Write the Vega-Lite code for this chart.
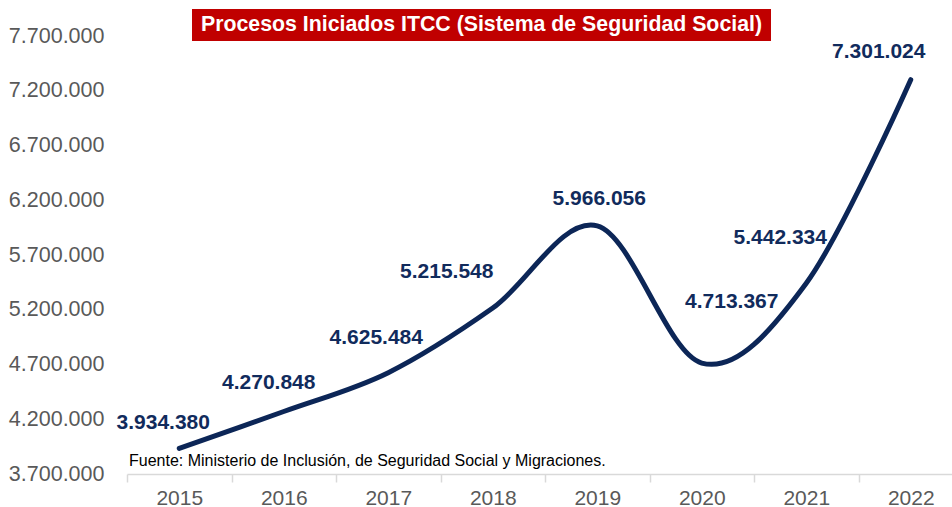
{
  "$schema": "https://vega.github.io/schema/vega-lite/v6.json",
  "width": 825,
  "height": 438,
  "autosize": {"type": "none"},
  "padding": {"left": 127, "top": 36, "right": 0, "bottom": 33},
  "background": "white",
  "config": {
    "view": {"stroke": null},
    "font": "Liberation Sans",
    "locale": {"number": {"decimal": ",", "thousands": ".", "grouping": [3], "currency": ["", " €"]}}
  },
  "data": {
    "values": [
      {"year": "2015", "value": 3934380},
      {"year": "2016", "value": 4270848},
      {"year": "2017", "value": 4625484},
      {"year": "2018", "value": 5215548},
      {"year": "2019", "value": 5966056},
      {"year": "2020", "value": 4713367},
      {"year": "2021", "value": 5442334},
      {"year": "2022", "value": 7301024}
    ]
  },
  "layer": [
    {
      "mark": {"type": "line", "interpolate": "cardinal", "color": "#0C2657", "strokeWidth": 5, "strokeCap": "round", "clip": false},
      "encoding": {
        "x": {
          "field": "year", "type": "ordinal",
          "scale": {"type": "band", "range": [0, 836], "paddingInner": 0, "paddingOuter": 0},
          "axis": {
            "title": null, "labelAngle": 0, "labelFontSize": 21, "labelColor": "#595959",
            "domainColor": "#D9D9D9", "domainWidth": 1.5, "tickColor": "#D9D9D9", "tickWidth": 1.5,
            "tickSize": 8, "tickBand": "extent", "labelPadding": 5, "grid": false
          }
        },
        "y": {
          "field": "value", "type": "quantitative",
          "scale": {"domain": [3700000, 7700000], "nice": false, "zero": false},
          "axis": {
            "title": null, "values": [3700000, 4200000, 4700000, 5200000, 5700000, 6200000, 6700000, 7200000, 7700000],
            "format": ",d", "labelFontSize": 21.5, "labelColor": "#595959", "domain": false, "ticks": false,
            "grid": false, "labelPadding": 23
          }
        }
      }
    },
    {
      "mark": {
        "type": "text", "fontSize": 21, "fontWeight": "bold", "color": "#112B5C", "align": "center", "baseline": "middle",
        "dx": {"expr": "[-16,-15,-12,-46,2,30,-26,-32][toNumber(datum.year)-2015]"},
        "dy": {"expr": "[-25,-28,-35,-36,-27,-61,-45,-28][toNumber(datum.year)-2015]"}
      },
      "encoding": {
        "x": {"field": "year", "type": "ordinal"},
        "y": {"field": "value", "type": "quantitative"},
        "text": {"field": "value", "type": "quantitative", "format": ",d"}
      }
    },
    {
      "data": {"values": [{"label": "Procesos Iniciados ITCC (Sistema de Seguridad Social)"}]},
      "layer": [
        {
          "mark": {"type": "rect", "color": "#C00000"},
          "encoding": {"x": {"value": 65}, "x2": {"value": 644}, "y": {"value": -27}, "y2": {"value": 5}}
        },
        {
          "mark": {"type": "text", "fontSize": 21.3, "fontWeight": "bold", "color": "white", "align": "center", "baseline": "middle"},
          "encoding": {"x": {"value": 354.5}, "y": {"value": -11}, "text": {"field": "label"}}
        }
      ]
    },
    {
      "data": {"values": [{"label": "Fuente: Ministerio de Inclusión, de Seguridad Social y Migraciones."}]},
      "mark": {"type": "text", "fontSize": 16, "color": "black", "align": "left", "baseline": "middle"},
      "encoding": {"x": {"value": 2}, "y": {"value": 425}, "text": {"field": "label"}}
    }
  ]
}
